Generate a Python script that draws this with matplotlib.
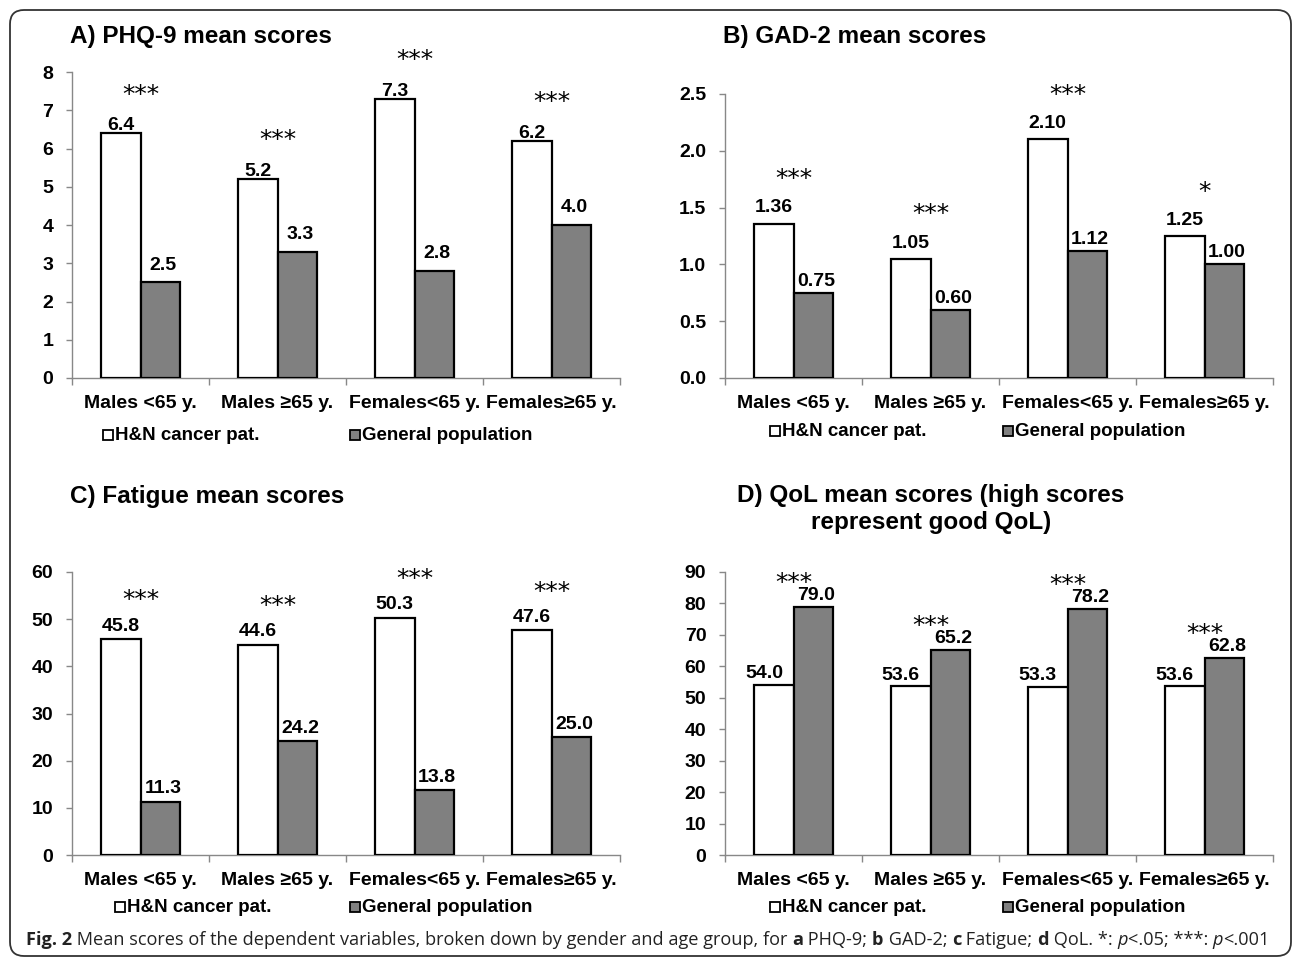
import matplotlib
matplotlib.use('Agg')
import matplotlib.pyplot as plt
from matplotlib.patches import FancyBboxPatch, Rectangle
import numpy as np

plt.rcParams['font.family'] = ['Liberation Sans', 'DejaVu Sans']
plt.rcParams['font.weight'] = 'bold'

# ---------------- data ----------------
categories = ['Males <65 y.', 'Males \u226565 y.', 'Females<65 y.', 'Females\u226565 y.']
series_names = ['H&N cancer pat.', 'General population']

phq9_patients = [6.4, 5.2, 7.3, 6.2]
phq9_general = [2.5, 3.3, 2.8, 4.0]
phq9_sig = ['***', '***', '***', '***']

gad2_patients = [1.36, 1.05, 2.10, 1.25]
gad2_general = [0.75, 0.60, 1.12, 1.00]
gad2_sig = ['***', '***', '***', '*']

fatigue_patients = [45.8, 44.6, 50.3, 47.6]
fatigue_general = [11.3, 24.2, 13.8, 25.0]
fatigue_sig = ['***', '***', '***', '***']

qol_patients = [54.0, 53.6, 53.3, 53.6]
qol_general = [79.0, 65.2, 78.2, 62.8]
qol_sig = ['***', '***', '***', '***']

titles = ['A) PHQ-9 mean scores', 'B) GAD-2 mean scores', 'C) Fatigue mean scores',
          'D) QoL mean scores (high scores\nrepresent good QoL)']

# ---------------- layout ----------------
W, H = 1293, 960
fig = plt.figure(figsize=(W / 100, H / 100), dpi=100)

ov = fig.add_axes([0, 0, 1, 1], zorder=-1)
ov.set_xlim(0, W)
ov.set_ylim(H, 0)
ov.axis('off')

ov.add_patch(FancyBboxPatch((10, 10), 1281, 946, boxstyle='round,pad=0,rounding_size=14',
                            facecolor='none', edgecolor='#333333', linewidth=1.3))

GRAY = '#808080'
AX_GRAY = '#888888'
BW = 0.29
FS = 14

panels = [
    dict(box=(72, 72, 620, 378), pat=phq9_patients, gen=phq9_general, sig=phq9_sig,
         ymax=8, step=1, tfmt='{:.0f}', vfmt='{:.1f}', wdy=2, gdy=9, wdx=0, sdy=22.8,
         title=titles[0], tpos=(70, 37, 'left'), leg=(103, 350, 435)),
    dict(box=(725, 94, 1273, 378), pat=gad2_patients, gen=gad2_general, sig=gad2_sig,
         ymax=2.5, step=0.5, tfmt='{:.1f}', vfmt='{:.2f}', wdy=8, gdy=5, wdx=0, sdy=27,
         title=titles[1], tpos=(723, 37, 'left'), leg=(770, 1003, 431)),
    dict(box=(72, 572, 620, 855), pat=fatigue_patients, gen=fatigue_general, sig=fatigue_sig,
         ymax=60, step=10, tfmt='{:.0f}', vfmt='{:.1f}', wdy=6, gdy=6, wdx=0, sdy=22.8,
         title=titles[2], tpos=(70, 496, 'left'), leg=(115, 350, 907)),
    dict(box=(725, 572, 1273, 855), pat=qol_patients, gen=qol_general, sig=qol_sig,
         ymax=90, step=10, tfmt='{:.0f}', vfmt='{:.1f}', wdy=5, gdy=5, wdx=-7, sdy=12,
         title=titles[3], tpos=(931, 509, 'center'), leg=(770, 1003, 907)),
]

x = np.arange(len(categories))

for p in panels:
    l, t, r, b = p['box']
    ax = fig.add_axes([l / W, 1 - b / H, (r - l) / W, (b - t) / H])
    ax.set_facecolor('none')
    ax.bar(x - BW / 2, p['pat'], BW, color='white', edgecolor='black', linewidth=1.6, zorder=3)
    ax.bar(x + BW / 2, p['gen'], BW, color=GRAY, edgecolor='black', linewidth=1.6, zorder=3)
    ax.set_xlim(-0.5, len(categories) - 0.5)
    ax.set_ylim(0, p['ymax'])
    yt = np.arange(0, p['ymax'] + p['step'] / 2, p['step'])
    ax.set_yticks(yt)
    ax.set_yticklabels([p['tfmt'].format(v) for v in yt])
    ax.set_xticks(x)
    ax.set_xticklabels(categories)
    ax.set_xticks(np.arange(-0.5, len(categories)), minor=True)
    for s in ['top', 'right']:
        ax.spines[s].set_visible(False)
    for s in ['left', 'bottom']:
        ax.spines[s].set_color(AX_GRAY)
        ax.spines[s].set_linewidth(1.0)
    ax.tick_params(axis='y', direction='out', length=4.5, width=1, color=AX_GRAY,
                   pad=9, labelsize=FS)
    ax.tick_params(axis='x', which='major', length=0, pad=12.5, labelsize=FS)
    ax.tick_params(axis='x', which='minor', direction='out', length=5, width=1, color=AX_GRAY)

    for i in range(len(categories)):
        vp, vg = p['pat'][i], p['gen'][i]
        ax.annotate(p['vfmt'].format(vp), (x[i] - BW / 2, vp), xytext=(p['wdx'], p['wdy']),
                    textcoords='offset points', ha='center', va='baseline',
                    fontsize=FS, fontweight='bold', zorder=4)
        ax.annotate(p['vfmt'].format(vg), (x[i] + BW / 2, vg), xytext=(2, p['gdy']),
                    textcoords='offset points', ha='center', va='baseline',
                    fontsize=FS, fontweight='bold', zorder=4)
        ax.annotate(p['sig'][i], (x[i], max(vp, vg)), xytext=(0, p['sdy']),
                    textcoords='offset points', ha='center', va='baseline',
                    fontsize=18, fontweight='normal', family='DejaVu Sans',
                    annotation_clip=False, zorder=4)

    tx, ty, ha = p['tpos']
    ov.text(tx, ty, p['title'], ha=ha, va='center', fontsize=17.5, fontweight='bold',
            multialignment='center', linespacing=1.2)

    m1, m2, ly = p['leg']
    for mx, fc, name in [(m1, 'white', series_names[0]), (m2, GRAY, series_names[1])]:
        ov.add_patch(Rectangle((mx, ly - 5), 10, 10, facecolor=fc, edgecolor='black',
                               linewidth=1.3))
        ov.text(mx + 12, ly, name, ha='left', va='center', fontsize=13.5, fontweight='bold')

# ---------------- caption ----------------
cap_pieces = [
    ('Fig. 2', 'bold', 'normal'),
    (' Mean scores of the dependent variables, broken down by gender and age group, for ', 'normal', 'normal'),
    ('a', 'bold', 'normal'), (' PHQ-9; ', 'normal', 'normal'),
    ('b', 'bold', 'normal'), (' GAD-2; ', 'normal', 'normal'),
    ('c', 'bold', 'normal'), (' Fatigue; ', 'normal', 'normal'),
    ('d', 'bold', 'normal'), (' QoL. *: ', 'normal', 'normal'),
    ('p', 'normal', 'italic'), ('<.05; ***: ', 'normal', 'normal'),
    ('p', 'normal', 'italic'), ('<.001', 'normal', 'normal'),
]
renderer = fig.canvas.get_renderer()
CAP_X0, CAP_X1 = 26, 1263


def draw_caption(size):
    xx = CAP_X0
    arts = []
    for s, wgt, sty in cap_pieces:
        tt = ov.text(xx, 940, s, ha='left', va='center', fontsize=size, fontweight=wgt,
                     fontstyle=sty, family=['Open Sans', 'DejaVu Sans'], color='#222222')
        arts.append(tt)
        xx += tt.get_window_extent(renderer).width
    return arts, xx


cap_size = 13
arts, end = draw_caption(cap_size)
if abs(end - CAP_X1) > 3:
    for a in arts:
        a.remove()
    cap_size = cap_size * (CAP_X1 - CAP_X0) / (end - CAP_X0)
    arts, end = draw_caption(cap_size)

fig.savefig('out.png', dpi=100)
